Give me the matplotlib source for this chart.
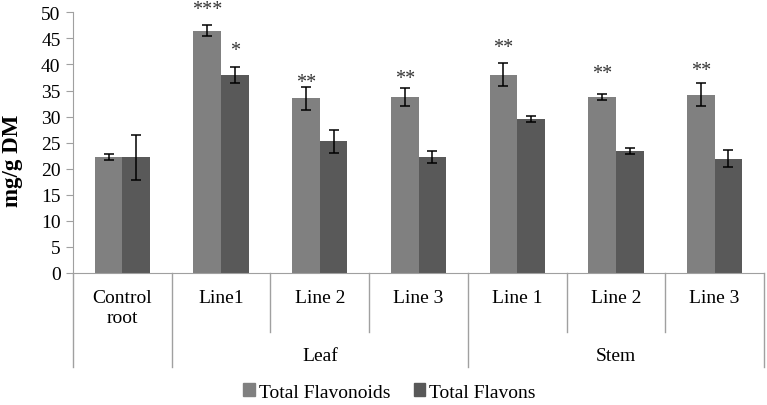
"""Flavonoid / flavon content by tissue and line, grouped bars with SE and significance stars."""
import matplotlib

matplotlib.use("Agg")
import matplotlib.pyplot as plt
from matplotlib.patches import Patch

plt.rcParams.update({"font.family": "Liberation Serif", "font.size": 14})

CATEGORIES = ["Control\nroot", "Line1", "Line 2", "Line 3", "Line 1", "Line 2", "Line 3"]
GROUPS = [("Leaf", 1, 3), ("Stem", 4, 6)]  # label, first idx, last idx
FLAVONOIDS = [22.2, 46.5, 33.5, 33.8, 38.0, 33.75, 34.2]
FLAVONOIDS_ERR = [0.6, 1.1, 2.2, 1.7, 2.2, 0.6, 2.25]
FLAVONS = [22.2, 38.0, 25.25, 22.25, 29.5, 23.4, 21.9]
FLAVONS_ERR = [4.35, 1.6, 2.2, 1.1, 0.6, 0.6, 1.6]
# significance marks: (category idx, series 0=flavonoids 1=flavons, text, y)
STARS = [(1, 0, "***", 50.5), (1, 1, "*", 42.6), (2, 0, "**", 36.5), (3, 0, "**", 37.3),
         (4, 0, "**", 43.2), (5, 0, "**", 38.3), (6, 0, "**", 38.8)]

C_FLAVONOIDS = "#808080"
C_FLAVONS = "#595959"
W = 0.28

fig = plt.figure(figsize=(7.67, 4.06), dpi=100)
ax = fig.add_axes([73 / 767, 1 - 274 / 406, (764 - 73) / 767, (274 - 13.3) / 406])

x = list(range(len(CATEGORIES)))
xa = [i - W / 2 for i in x]
xb = [i + W / 2 for i in x]
ax.bar(xa, FLAVONOIDS, W, color=C_FLAVONOIDS)
ax.bar(xb, FLAVONS, W, color=C_FLAVONS)
ekw = dict(fmt="none", ecolor="black", elinewidth=1.1, capsize=3.5, capthick=1.1)
ax.errorbar(xa, FLAVONOIDS, yerr=FLAVONOIDS_ERR, **ekw)
ax.errorbar(xb, FLAVONS, yerr=FLAVONS_ERR, **ekw)

for i, s, txt, y in STARS:
    xs = xa[i] if s == 0 else xb[i]
    ax.text(xs, y, txt, ha="center", va="center", fontsize=14.5, color="#333333", clip_on=False)

ax.set_xlim(-0.5, len(CATEGORIES) - 0.5)
ax.set_ylim(0, 50)
ax.set_yticks(range(0, 51, 5))
ax.tick_params(axis="y", direction="out", length=5, color="#a0a0a0", labelsize=14, pad=4)
ax.set_xticks([])
for side in ("top", "right"):
    ax.spines[side].set_visible(False)
for side in ("left", "bottom"):
    ax.spines[side].set_color("#a0a0a0")
ax.set_ylabel("mg/g DM", fontsize=16.5, fontweight="bold")
ax.yaxis.set_label_coords(-0.073, 0.433)

# two-level category axis
tr = ax.get_xaxis_transform()
full_y, short_y = -0.3606, -0.226
bounds = [i - 0.5 for i in range(len(CATEGORIES) + 1)]
group_edges = {bounds[0], bounds[-1]} | {g[1] - 0.5 for g in GROUPS} | {g[2] + 0.5 for g in GROUPS}
for b in bounds:
    y_end = full_y if b in group_edges else short_y
    ax.plot([b, b], [0, y_end], transform=tr, color="#a0a0a0", lw=1, clip_on=False)
for i, lab in enumerate(CATEGORIES):
    ax.text(i, -0.063, lab, transform=tr, ha="center", va="top", fontsize=14, linespacing=1.2)
for lab, a, b in GROUPS:
    ax.text((a + b) / 2, -0.318, lab, transform=tr, ha="center", va="center", fontsize=14)

handles = [Patch(color=C_FLAVONOIDS, label="Total Flavonoids"),
           Patch(color=C_FLAVONS, label="Total Flavons")]
fig.legend(handles=handles, loc="center", bbox_to_anchor=(0.508, 1 - 393 / 406), ncol=2,
           frameon=False, fontsize=14, handlelength=0.6, handleheight=0.6, handletextpad=0.2,
           columnspacing=1.2)

fig.savefig("out.png", dpi=100)
